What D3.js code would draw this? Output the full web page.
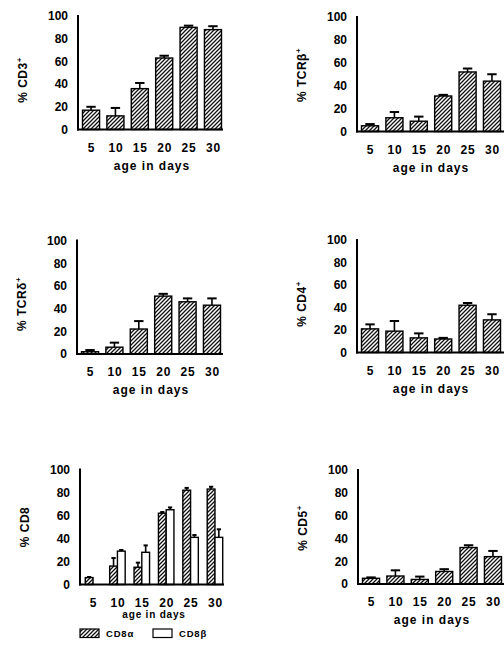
<!DOCTYPE html>
<html><head><meta charset="utf-8">
<script src="https://cdn.jsdelivr.net/npm/d3@7"></script>
<style>
html,body{margin:0;padding:0;background:#fff;}
svg{display:block;font-family:"Liberation Sans",Arial,Helvetica,sans-serif;font-weight:bold;}
</style></head>
<body>
<svg id="c" width="504" height="650"></svg>
<script>
// ---- data ----
const days = [5, 10, 15, 20, 25, 30];
const yTicks = [0, 20, 40, 60, 80, 100];
const cd3 = [17, 12, 36, 63, 90, 88];
const cd3Err = [3, 7, 5, 2, 1.5, 3];
const tcrb = [5, 12, 9, 31, 52, 44];
const tcrbErr = [1.5, 5, 4, 1, 3, 6];
const tcrd = [2, 6, 22, 51, 46, 43];
const tcrdErr = [1.5, 4, 7, 2, 3, 6];
const cd4 = [21, 19, 13, 12, 42, 29];
const cd4Err = [4, 9, 4, 1, 2, 5];
const cd8a = [6, 16, 15, 62, 82, 83];
const cd8aErr = [0.5, 7, 4, 1, 2, 2];
const cd8b = [0, 29, 28, 65, 41, 41];
const cd8bErr = [0, 1, 6, 2, 2, 7];
const cd5 = [5, 7, 4, 11, 32, 24];
const cd5Err = [0.8, 5, 2.5, 2, 2, 5];
const legendLabels = ["CD8α", "CD8β"];
const xTitle = "age in days";

// ---- layout ----
const panels = [
  {ax: 78,  y100: 16,    y0: 129.5, xEnd: 223, labMain: "% CD3",  sup: "+", labY: 80,  series: [{v: cd3, e: cd3Err, fill: "hatch"}]},
  {ax: 357, y100: 17,    y0: 131.5, xEnd: 510, labMain: "% TCRβ", sup: "+", labY: 75,  series: [{v: tcrb, e: tcrbErr, fill: "hatch"}]},
  {ax: 77,  y100: 240.5, y0: 354,   xEnd: 223, labMain: "% TCRδ", sup: "+", labY: 304, series: [{v: tcrd, e: tcrdErr, fill: "hatch"}]},
  {ax: 357, y100: 240,   y0: 352.5, xEnd: 510, labMain: "% CD4",  sup: "+", labY: 304, series: [{v: cd4, e: cd4Err, fill: "hatch"}]},
  {ax: 80,  y100: 469.5, y0: 584.5, xEnd: 224, labMain: "% CD8",  sup: "",  labY: 527, small: true,
     series: [{v: cd8a, e: cd8aErr, fill: "hatch"}, {v: cd8b, e: cd8bErr, fill: "white"}]},
  {ax: 358, y100: 470,   y0: 584,   xEnd: 510, labMain: "% CD5",  sup: "+", labY: 528, series: [{v: cd5, e: cd5Err, fill: "hatch"}]}
];

const svg = d3.select("#c");
const defs = svg.append("defs");
const pat = defs.append("pattern").attr("id", "hatch").attr("patternUnits", "userSpaceOnUse")
  .attr("width", 4).attr("height", 4);
pat.append("rect").attr("width", 4).attr("height", 4).attr("fill", "#fff");
pat.append("path").attr("d", "M-1,1 l2,-2 M0,4 l4,-4 M3,5 l2,-2")
  .attr("stroke", "#111").attr("stroke-width", 1.3);

function fillOf(f) { return f === "hatch" ? "url(#hatch)" : "#fff"; }

panels.forEach(p => {
  const g = svg.append("g");
  const y = d3.scaleLinear().domain([0, 100]).range([p.y0, p.y100]);
  const x = d3.scaleBand().domain(days).range([p.ax + 4.5, p.ax + 143.5]).paddingInner(0.3).paddingOuter(0.0);
  const ns = p.series.length;
  const groupW = ns === 1 ? x.bandwidth() : 15.5;
  const sub = d3.scaleBand().domain(d3.range(ns)).range([0, groupW]);

  // bars
  p.series.forEach((s, si) => {
    days.forEach((d, i) => {
      const val = s.v[i];
      if (!val) return;
      const cx = x(d) + x.bandwidth() / 2;
      const bx = cx - groupW / 2 + sub(si);
      const bw = sub.bandwidth();
      const top = y(val), eTop = y(val + s.e[i]);
      // error bar (upper)
      const mid = bx + bw / 2;
      const capW = Math.max(4, bw * 0.55);
      g.append("line").attr("x1", mid).attr("x2", mid).attr("y1", top).attr("y2", eTop)
        .attr("stroke", "#000").attr("stroke-width", 1.6);
      g.append("line").attr("x1", mid - capW / 2).attr("x2", mid + capW / 2).attr("y1", eTop).attr("y2", eTop)
        .attr("stroke", "#000").attr("stroke-width", 2);
      g.append("rect").attr("x", bx).attr("y", top).attr("width", bw).attr("height", p.y0 - top)
        .attr("fill", fillOf(s.fill)).attr("stroke", "#000").attr("stroke-width", 1.4);
    });
  });

  // axes
  g.append("line").attr("x1", p.ax).attr("x2", p.ax).attr("y1", y(100) - 1).attr("y2", p.y0 + 1)
    .attr("stroke", "#000").attr("stroke-width", 2);
  g.append("line").attr("x1", p.ax - 1).attr("x2", p.xEnd).attr("y1", p.y0).attr("y2", p.y0)
    .attr("stroke", "#000").attr("stroke-width", 2);

  // y tick labels
  g.selectAll(".yt").data(yTicks).enter().append("text")
    .attr("x", p.ax - 10).attr("y", d => y(d) + 4.3)
    .attr("text-anchor", "end").attr("font-size", 12).text(d => d);

  // x tick labels
  g.selectAll(".xt").data(days).enter().append("text")
    .attr("x", d => x(d) + x.bandwidth() / 2 + 0.5).attr("y", p.y0 + 22)
    .attr("text-anchor", "middle").attr("font-size", 12).attr("letter-spacing", 0.8).text(d => d);

  // x title
  const xc = (x(days[0]) + x(days[5]) + x.bandwidth()) / 2;
  g.append("text").attr("x", xc).attr("y", p.small ? p.y0 + 33 : p.y0 + 40)
    .attr("text-anchor", "middle").attr("font-size", p.small ? 10 : 12)
    .attr("letter-spacing", p.small ? 0.8 : 1).text(xTitle);

  // y label
  const t = g.append("text").attr("transform", `translate(${p.ax - 51},${p.labY}) rotate(-90)`)
    .attr("text-anchor", "middle").attr("font-size", 12).attr("letter-spacing", 0.5);
  t.append("tspan").text(p.labMain);
  if (p.sup) t.append("tspan").attr("dy", -5).attr("font-size", 8).text(p.sup);
});

// legend
const lg = svg.append("g");
const legendFills = ["hatch", "white"];
const legX = [80, 153];
legendLabels.forEach((l, i) => {
  lg.append("rect").attr("x", legX[i]).attr("y", 629).attr("width", 19).attr("height", 8.5)
    .attr("fill", fillOf(legendFills[i])).attr("stroke", "#000").attr("stroke-width", 1.2);
  lg.append("text").attr("x", legX[i] + 26).attr("y", 637).attr("font-size", 9.5)
    .attr("letter-spacing", 0.8).text(l);
});
</script>
</body></html>
